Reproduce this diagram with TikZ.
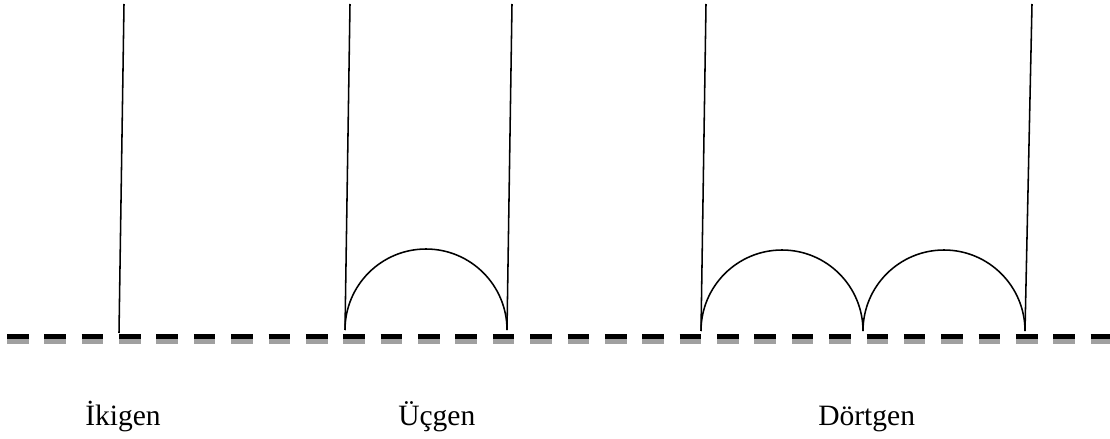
\documentclass[tikz,border=0pt]{standalone}
\usepackage{fontspec}
\setmainfont{Liberation Serif}
\usetikzlibrary{positioning,calc}
\definecolor{shadowgray}{RGB}{160,160,160}

\begin{document}
\begin{tikzpicture}[x=0.025cm, y=-0.025cm,
      leg/.style={black, line width=1.1pt},
      bow/.style={black, line width=1.1pt},
      groundline/.style={line width=0.125cm,
                         dash pattern=on 0.54cm off 0.394cm},
      lbl/.style={font=\fontsize{21}{25}\selectfont, anchor=base west,
                  inner sep=0pt},
    ]
      \useasboundingbox (0,0) rectangle (1110,439);
      %% Ground (dashed, with gray shadow)
      \coordinate (gl) at (7,336.5);
      \coordinate (gr) at (1110,336.5);
      \draw[groundline, shadowgray] ($(gl)+(0,4.5)$) -- ($(gr)+(0,4.5)$);
      \draw[groundline, black] (gl) -- (gr);
      %% Ikigen
      \coordinate (ib) at (119,333);
      \coordinate (it) at (124,4);
      \draw[leg] (ib) -- (it);
      %% Ucgen
      \coordinate (ub1) at (345,330);
      \coordinate (ut1) at (350,4);
      \coordinate (ub2) at (507,330);
      \coordinate (ut2) at (512,4);
      \draw[leg] (ub1) -- (ut1);
      \draw[leg] (ub2) -- (ut2);
      \draw[bow] (ub1) arc[start angle=180, end angle=360, radius=81];
      %% Dortgen
      \coordinate (db1) at (701,331);
      \coordinate (dt1) at (706,4);
      \coordinate (dbm) at (863,331);
      \coordinate (db2) at (1025,331);
      \coordinate (dt2) at (1032,4);
      \draw[leg] (db1) -- (dt1);
      \draw[leg] (db2) -- (dt2);
      \draw[bow] (db1) arc[start angle=180, end angle=360, radius=81];
      \draw[bow] (dbm) arc[start angle=180, end angle=360, radius=81];
      %% Labels
      \node[lbl] (iname) at (85,425) {İkigen};
      \node[lbl] (uname) at (398,425) {Üçgen};
      \node[lbl] (dname) at (818,425) {Dörtgen};
    \end{tikzpicture}
\end{document}
